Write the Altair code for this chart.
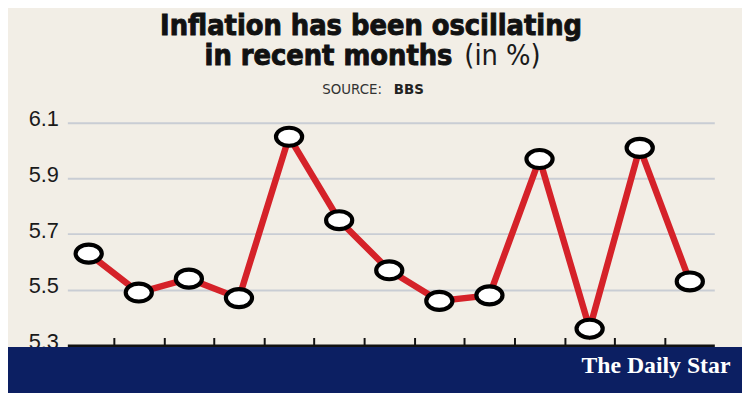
import altair as alt
import pandas as pd

# ---- data ----
months = ["Jul 2019", "Aug 2019", "Sep 2019", "Oct 2019", "Nov 2019", "Dec 2019",
          "Jan 2020", "Feb 2020", "Mar 2020", "Apr 2020", "May 2020", "Jun 2020", "Jul 2020"]
inflation = [5.63, 5.49, 5.54, 5.47, 6.05, 5.75, 5.57, 5.46, 5.48, 5.97, 5.36, 6.01, 5.53]
y_ticks = [5.3, 5.5, 5.7, 5.9, 6.1]

title_line1 = "Inflation has been oscillating"
title_line2_bold = "in recent months"
title_line2_light = "(in %)"
source_label = "SOURCE:"
source_name = "BBS"
brand = "The Daily Star"

# ---- styling ----
BG = "#f2eee6"
NAVY = "#0c1f62"
RED = "#d52229"
GRID = "#c9cdd4"

df = pd.DataFrame({"month": months, "idx": list(range(len(months))), "inflation": inflation})
tick_positions = [i + 0.5 for i in range(len(months) - 1)]

W, H = 654, 225

x_enc = alt.X(
    "idx:Q",
    scale=alt.Scale(domain=[-0.426, 12.489], nice=False, zero=False),
    axis=alt.Axis(orient="top", offset=-H, values=tick_positions, labels=False,
                  title=None, grid=False, domainColor="#111111", domainWidth=3,
                  tickColor="#111111", tickWidth=2, tickSize=8),
)
y_enc = alt.Y(
    "inflation:Q",
    scale=alt.Scale(domain=[5.3, 6.1], nice=False, zero=False),
    axis=alt.Axis(values=y_ticks, title=None, domain=False, ticks=False, tickSize=0,
                  labelFont="Liberation Sans", labelFontSize=22, labelColor="#1a1a1a",
                  labelPadding=9, labelBaseline="middle", labelOffset=-4,
                  gridColor=GRID, gridWidth=2, format=".1f"),
)

base = alt.Chart(df)
line = base.mark_line(color=RED, strokeWidth=6.5).encode(x=x_enc, y=y_enc)

b = 0.686
k = 0.552
ellipse = (f"M-1,0 C-1,{-k*b:.3f} {-k:.3f},{-b} 0,{-b} C{k:.3f},{-b} 1,{-k*b:.3f} 1,0 "
           f"C1,{k*b:.3f} {k:.3f},{b} 0,{b} C{-k:.3f},{b} -1,{k*b:.3f} -1,0 Z")
points = base.mark_point(shape=ellipse, size=700, filled=True, fill="white",
                         stroke="black", strokeWidth=4.2, opacity=1,
                         fillOpacity=1, strokeOpacity=1).encode(
    x="idx:Q", y="inflation:Q", tooltip=["month", "inflation"])

banner = alt.Chart(pd.DataFrame({"a": [0]})).mark_rect(color=NAVY).encode(
    x=alt.value(-60), x2=alt.value(700), y=alt.value(226.5), y2=alt.value(300))

def text_layer(txt, x, y, **kw):
    return alt.Chart(pd.DataFrame({"t": [txt]})).mark_text(**kw).encode(
        x=alt.value(x), y=alt.value(y), text="t:N")

TITLE_FONT = "DejaVu Sans Condensed, Liberation Sans Narrow, DejaVu Sans, sans-serif"
t1 = text_layer(title_line1, 307, -88.7, font=TITLE_FONT, fontWeight="bold",
                fontSize=29, align="center", baseline="alphabetic", color="#111111",
                stroke="#111111", strokeWidth=0.9)
t2 = text_layer(title_line2_bold, 389.3, -58.7, font=TITLE_FONT, fontWeight="bold",
                fontSize=29, align="right", baseline="alphabetic", color="#111111",
                stroke="#111111", strokeWidth=0.9)
t3 = text_layer(title_line2_light, 401.3, -58.7, font=TITLE_FONT, fontWeight="normal",
                fontSize=29, align="left", baseline="alphabetic", color="#1a1a1a")
s1 = text_layer(source_label, 318, -28.7, font="DejaVu Sans", fontSize=13.5,
                align="right", baseline="alphabetic", color="#333333")
s2 = text_layer(source_name, 330, -28.7, font="DejaVu Sans", fontWeight="bold",
                fontSize=13.5, align="left", baseline="alphabetic", color="#222222")
logo = text_layer(brand, 670.3, 253, font="Liberation Serif", fontWeight="bold",
                  fontSize=24, align="right", baseline="alphabetic", color="white")

chart = alt.layer(line, points, banner, logo, t1, t2, t3, s1, s2).properties(
    width=W, height=H,
    autosize=alt.AutoSizeParams(type="none"),
    padding={"left": 60, "top": 114, "right": 28, "bottom": 46},
    background=BG,
).configure_view(stroke=None)

chart.save("out.html", embed_options={"renderer": "svg", "actions": False})
